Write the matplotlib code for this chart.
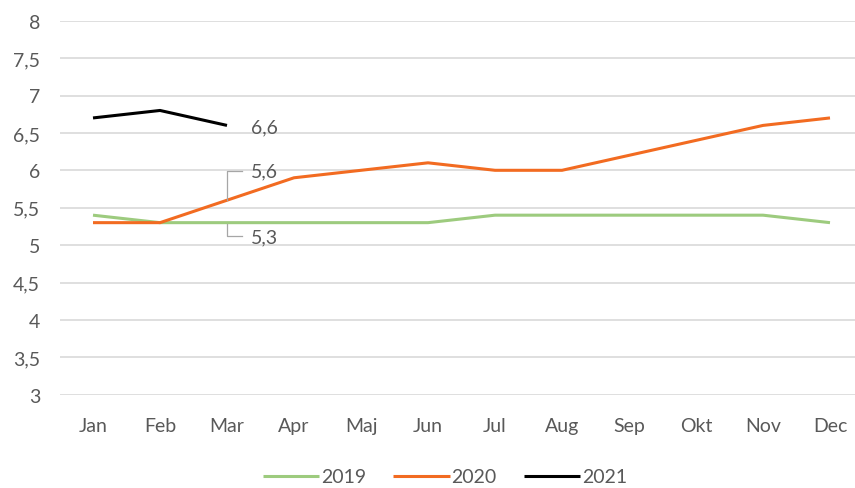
import matplotlib.pyplot as plt

months = ["Jan", "Feb", "Mar", "Apr", "Maj", "Jun", "Jul", "Aug", "Sep", "Okt", "Nov", "Dec"]
y2019 = [5.4, 5.3, 5.3, 5.3, 5.3, 5.3, 5.4, 5.4, 5.4, 5.4, 5.4, 5.3]
y2020 = [5.3, 5.3, 5.6, 5.9, 6.0, 6.1, 6.0, 6.0, 6.2, 6.4, 6.6, 6.7]
y2021 = [6.7, 6.8, 6.6]
yticks = [3, 3.5, 4, 4.5, 5, 5.5, 6, 6.5, 7, 7.5, 8]

text_col = "#595959"
fs = 14
plt.rcParams['font.family'] = ['Lato', 'DejaVu Sans']

fig = plt.figure(figsize=(8.55, 4.89), dpi=100)
W, H = 855, 489
ax = fig.add_axes([59.5 / W, (H - 395.7) / H, (863.5 - 59.5) / W, 374 / H])

x = list(range(len(months)))
ax.plot(x, y2019, color="#9DCB7E", lw=2.2, label="2019", solid_capstyle="butt")
ax.plot(x, y2020, color="#F26B21", lw=2.2, label="2020", solid_capstyle="butt")
ax.plot(x[:len(y2021)], y2021, color="black", lw=2.2, label="2021", solid_capstyle="butt")

ax.set_xlim(-0.5, len(months) - 0.5)
ax.set_ylim(3, 8)
ax.set_yticks(yticks)
ax.set_yticklabels([f"{t:g}".replace(".", ",") for t in yticks])
ax.set_xticks(x)
ax.set_xticklabels(months)
ax.tick_params(length=0, labelsize=fs, colors=text_col)
ax.tick_params(axis="y", pad=14)
ax.tick_params(axis="x", pad=16)
ax.grid(axis="y", color="#D9D9D9", lw=1.2)
ax.set_axisbelow(True)
for s in ax.spines.values():
    s.set_visible(False)

# data labels for March
px_x = 67.0      # pixels per category
px_y = 74.8      # pixels per y unit
mar = 2
ax.annotate("6,6", (mar, y2021[mar]), xytext=(17, -1), textcoords="offset points",
            va="center", ha="left", fontsize=fs, color=text_col)

lead = "#A6A6A6"
up = 29 / px_y
ax.plot([mar, mar, mar + 15 / px_x], [y2020[mar], y2020[mar] + up, y2020[mar] + up],
        color=lead, lw=0.9)
ax.annotate("5,6", (mar, y2020[mar] + up), xytext=(17, 0), textcoords="offset points",
            va="center", ha="left", fontsize=fs, color=text_col)

down = 13 / px_y
ax.plot([mar, mar, mar + 15 / px_x], [y2019[mar] - 1.5 / px_y, y2019[mar] - down, y2019[mar] - down],
        color=lead, lw=0.9)
ax.annotate("5,3", (mar, y2019[mar] - down), xytext=(17, -1), textcoords="offset points",
            va="center", ha="left", fontsize=fs, color=text_col)

leg = fig.legend(loc="center", bbox_to_anchor=(445 / W, 1 - 478 / H), ncol=3, frameon=False,
                 fontsize=fs, handlelength=2.9, handletextpad=0.1, columnspacing=1.4)
for t in leg.get_texts():
    t.set_color(text_col)

fig.savefig("out.png", dpi=100)
